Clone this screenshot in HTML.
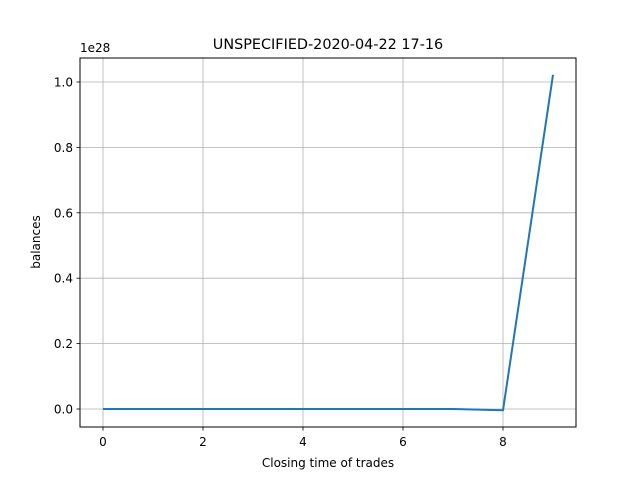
<!DOCTYPE html>
<html><head><meta charset="utf-8"><style>
body{margin:0;background:#fff}
svg{display:block;font-family:"DejaVu Sans","Liberation Sans",sans-serif}
</style></head><body>
<svg id="chart" width="640" height="480">
<rect x="0" y="0" width="640" height="480" fill="#fff"/>
<g id="grid"></g>
<g id="ticks"></g>
<path id="line" fill="none" stroke="#1f77b4" stroke-width="2" stroke-linejoin="round"/>
<rect x="80" y="58" width="496" height="369" fill="none" stroke="#000" stroke-width="1"/>
<text x="328" y="49" text-anchor="middle" font-size="14.4">UNSPECIFIED-2020-04-22 17-16</text>
<text x="328" y="467" text-anchor="middle" font-size="12">Closing time of trades</text>
<text x="40" y="242" text-anchor="middle" font-size="12" transform="rotate(-90 40 242)">balances</text>
<text x="80" y="52" font-size="12">1e28</text>
</svg>
<script>
const xValues=[0,1,2,3,4,5,6,7,8,9];
const yValues=[0,0,0,0,0,0,0,0,-0.004,1.022];
const xTicks=[0,2,4,6,8];
const yTicks=[0,0.2,0.4,0.6,0.8,1.0];
const yTickLabels=["0.0","0.2","0.4","0.6","0.8","1.0"];
const ns="http://www.w3.org/2000/svg";
function xs(v){return 103+v*50;}
function ys(v){return 409-v*327;}
function mk(tag,attrs,parent){const e=document.createElementNS(ns,tag);for(const k in attrs)e.setAttribute(k,attrs[k]);parent.appendChild(e);return e;}
const grid=document.getElementById('grid'),ticks=document.getElementById('ticks');
xTicks.forEach(t=>{const x=xs(t);
 const g=mk('line',{x1:x,x2:x,y1:58,y2:427,stroke:'#b0b0b0','stroke-width':0.8},grid);
 
 
 const tk=mk('line',{x1:x,x2:x,y1:427,y2:430.5,stroke:'#000','stroke-width':0.8},ticks);
 
 
 const l=mk('text',{x:x,y:446,'text-anchor':'middle','font-size':12},ticks);l.textContent=t;
 
 
});
yTicks.forEach((t,i)=>{const y=ys(t);
 const g=mk('line',{x1:80,x2:576,y1:y,y2:y,stroke:'#b0b0b0','stroke-width':0.8},grid);
 
 
 const tk=mk('line',{x1:76.5,x2:80,y1:y,y2:y,stroke:'#000','stroke-width':0.8},ticks);
 
 
 const l=mk('text',{x:73,y:y+4.5,'text-anchor':'end','font-size':12},ticks);l.textContent=yTickLabels[i];
 
 
});
document.getElementById('line').setAttribute('d',xValues.map((x,i)=>(i?'L':'M')+xs(x)+' '+ys(yValues[i])).join(' '));
</script>
</body></html>
